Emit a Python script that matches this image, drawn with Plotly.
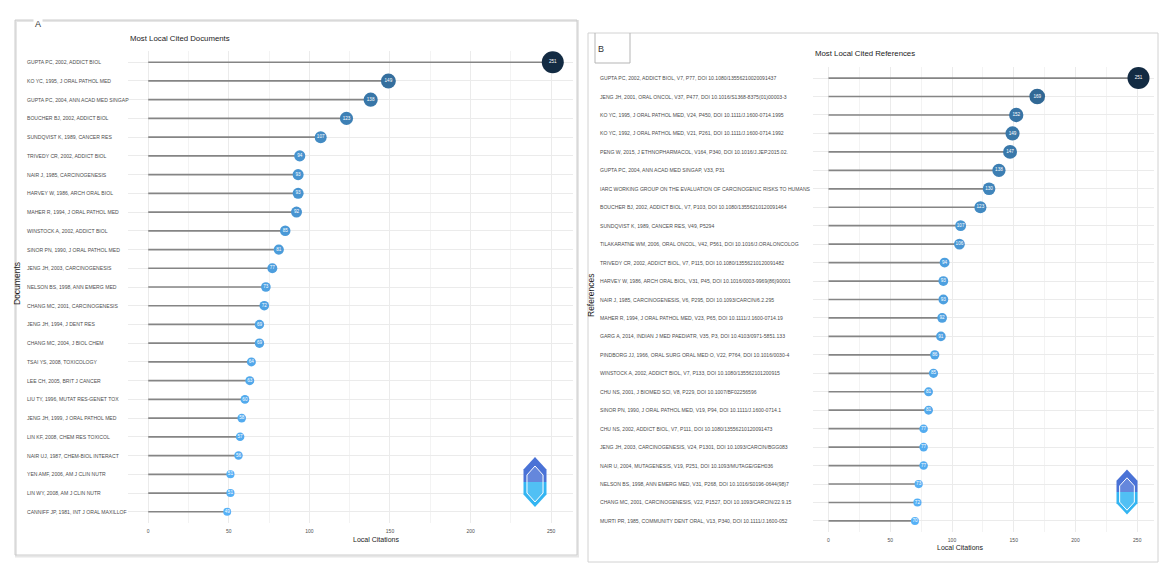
import plotly.graph_objects as go

# ---- Panel A: most local cited documents ----
doc_labels = [
    "GUPTA PC, 2002, ADDICT BIOL",
    "KO YC, 1995, J ORAL PATHOL MED",
    "GUPTA PC, 2004, ANN ACAD MED SINGAP",
    "BOUCHER BJ, 2002, ADDICT BIOL",
    "SUNDQVIST K, 1989, CANCER RES",
    "TRIVEDY CR, 2002, ADDICT BIOL",
    "NAIR J, 1985, CARCINOGENESIS",
    "HARVEY W, 1986, ARCH ORAL BIOL",
    "MAHER R, 1994, J ORAL PATHOL MED",
    "WINSTOCK A, 2002, ADDICT BIOL",
    "SINOR PN, 1990, J ORAL PATHOL MED",
    "JENG JH, 2003, CARCINOGENESIS",
    "NELSON BS, 1998, ANN EMERG MED",
    "CHANG MC, 2001, CARCINOGENESIS",
    "JENG JH, 1994, J DENT RES",
    "CHANG MC, 2004, J BIOL CHEM",
    "TSAI YS, 2008, TOXICOLOGY",
    "LEE CH, 2005, BRIT J CANCER",
    "LIU TY, 1996, MUTAT RES-GENET TOX",
    "JENG JH, 1999, J ORAL PATHOL MED",
    "LIN KF, 2008, CHEM RES TOXICOL",
    "NAIR UJ, 1987, CHEM-BIOL INTERACT",
    "YEN AMF, 2006, AM J CLIN NUTR",
    "LIN WY, 2008, AM J CLIN NUTR",
    "CANNIFF JP, 1981, INT J ORAL MAXILLOF",
]
doc_citations = [251, 149, 138, 123, 107, 94, 93, 93, 92, 85, 81, 77, 73, 72,
                 69, 69, 64, 63, 60, 58, 57, 56, 51, 51, 49]

# ---- Panel B: most local cited references ----
ref_labels = [
    "GUPTA PC, 2002, ADDICT BIOL, V7, P77, DOI 10.1080/13556210020091437",
    "JENG JH, 2001, ORAL ONCOL, V37, P477, DOI 10.1016/S1368-8375(01)00003-3",
    "KO YC, 1995, J ORAL PATHOL MED, V24, P450, DOI 10.1111/J.1600-0714.1995",
    "KO YC, 1992, J ORAL PATHOL MED, V21, P261, DOI 10.1111/J.1600-0714.1992",
    "PENG W, 2015, J ETHNOPHARMACOL, V164, P340, DOI 10.1016/J.JEP.2015.02.",
    "GUPTA PC, 2004, ANN ACAD MED SINGAP, V33, P31",
    "IARC WORKING GROUP ON THE EVALUATION OF CARCINOGENIC RISKS TO HUMANS",
    "BOUCHER BJ, 2002, ADDICT BIOL, V7, P103, DOI 10.1080/13556210120091464",
    "SUNDQVIST K, 1989, CANCER RES, V49, P5294",
    "TILAKARATNE WM, 2006, ORAL ONCOL, V42, P561, DOI 10.1016/J.ORALONCOLOG",
    "TRIVEDY CR, 2002, ADDICT BIOL, V7, P115, DOI 10.1080/13556210120091482",
    "HARVEY W, 1986, ARCH ORAL BIOL, V31, P45, DOI 10.1016/0003-9969(86)90001",
    "NAIR J, 1985, CARCINOGENESIS, V6, P295, DOI 10.1093/CARCIN/6.2.295",
    "MAHER R, 1994, J ORAL PATHOL MED, V23, P65, DOI 10.1111/J.1600-0714.19",
    "GARG A, 2014, INDIAN J MED PAEDIATR, V35, P3, DOI 10.4103/0971-5851.133",
    "PINDBORG JJ, 1966, ORAL SURG ORAL MED O, V22, P764, DOI 10.1016/0030-4",
    "WINSTOCK A, 2002, ADDICT BIOL, V7, P133, DOI 10.1080/135562101200915",
    "CHU NS, 2001, J BIOMED SCI, V8, P229, DOI 10.1007/BF02256596",
    "SINOR PN, 1990, J ORAL PATHOL MED, V19, P94, DOI 10.1111/J.1600-0714.1",
    "CHU NS, 2002, ADDICT BIOL, V7, P111, DOI 10.1080/13556210120091473",
    "JENG JH, 2003, CARCINOGENESIS, V24, P1301, DOI 10.1093/CARCIN/BGG083",
    "NAIR U, 2004, MUTAGENESIS, V19, P251, DOI 10.1093/MUTAGE/GEH036",
    "NELSON BS, 1998, ANN EMERG MED, V31, P268, DOI 10.1016/S0196-0644(98)7",
    "CHANG MC, 2001, CARCINOGENESIS, V22, P1527, DOI 10.1093/CARCIN/22.9.15",
    "MURTI PR, 1985, COMMUNITY DENT ORAL, V13, P340, DOI 10.1111/J.1600-052",
]
ref_citations = [251, 169, 152, 149, 147, 138, 130, 123, 107, 106, 94, 93, 93,
                 92, 91, 86, 85, 81, 81, 77, 77, 77, 73, 72, 70]

axis_ticks = [0, 50, 100, 150, 200, 250]

W, H = 1160, 563
FONT = "Liberation Sans, Arial, sans-serif"
LOW_COL, HIGH_COL = "#56B1F7", "#132B43"


def px_x(x):
    return x / W


def px_y(y):
    return 1 - y / H


fig = go.Figure()


def add_panel(labels, values, xa, ya, label_left_px, label_size):
    n = len(labels)
    idx = list(range(n))
    # stems from zero to each value
    sx, sy = [], []
    for i, v in zip(idx, values):
        sx += [0, v, None]
        sy += [i, i, None]
    fig.add_trace(go.Scatter(
        x=sx, y=sy, mode="lines", xaxis=xa, yaxis=ya,
        line=dict(color="#858585", width=1.7), hoverinfo="skip",
        showlegend=False))
    vmin, vmax = min(values), max(values)
    sizes = [8 + (v - vmin) / (vmax - vmin) * 14 for v in values]
    fig.add_trace(go.Scatter(
        x=values, y=idx, mode="markers+text", xaxis=xa, yaxis=ya,
        text=[str(v) for v in values], textposition="middle center",
        textfont=dict(family=FONT, size=4.6, color="white"),
        marker=dict(size=sizes, color=values, opacity=1,
                    colorscale=[[0, LOW_COL], [1, HIGH_COL]],
                    cmin=vmin, cmax=vmax, line=dict(width=0)),
        opacity=1, showlegend=False, hoverinfo="x+y"))
    # left-aligned category labels
    for i, lab in zip(idx, labels):
        fig.add_annotation(
            text=lab, xref="paper", x=px_x(label_left_px), xanchor="left",
            yref=ya, y=i, yanchor="middle", showarrow=False,
            font=dict(family=FONT, size=label_size, color="#4d4d4d"))
    return n


nA = add_panel(doc_labels, doc_citations, "x", "y", 25, 5.1)
nB = add_panel(ref_labels, ref_citations, "x2", "y2", 598, 5.1)

maxA, maxB = max(doc_citations), max(ref_citations)
common_x = dict(
    tickvals=axis_ticks, ticktext=[str(t) for t in axis_ticks],
    showgrid=True, gridcolor="#ebebeb", gridwidth=1, zeroline=False,
    showline=False, ticks="", ticklen=0, ticklabelstandoff=4,
    tickfont=dict(family=FONT, size=5, color="#4d4d4d"),
    minor=dict(dtick=25, tick0=0, showgrid=True, gridcolor="#f3f3f3",
               gridwidth=1),
)
common_y = dict(
    showgrid=True, gridcolor="#ebebeb", gridwidth=1.2, zeroline=False,
    showline=False, showticklabels=False, ticks="", tick0=0, dtick=1,
)

fig.update_layout(
    width=W, height=H, margin=dict(l=0, r=0, t=0, b=0),
    paper_bgcolor="white", plot_bgcolor="white",
    xaxis=dict(domain=[px_x(128), px_x(573)],
               range=[-0.05 * maxA, 1.05 * maxA], anchor="y", **common_x),
    yaxis=dict(domain=[px_y(523), px_y(51)], range=[nA - 0.4, -0.6],
               anchor="x", **common_y),
    xaxis2=dict(domain=[px_x(813), px_x(1154)],
                range=[-0.05 * maxB, 1.05 * maxB], anchor="y2", **common_x),
    yaxis2=dict(domain=[px_y(532), px_y(67)], range=[nB - 0.4, -0.6],
                anchor="x2", **common_y),
)

# panel frames
fig.add_shape(type="rect", xref="paper", yref="paper",
              x0=px_x(16), x1=px_x(578), y0=px_y(556.5), y1=px_y(21),
              line=dict(color="#e6e6e6", width=2), fillcolor="rgba(0,0,0,0)",
              layer="below")
fig.add_shape(type="rect", xref="paper", yref="paper",
              x0=px_x(15), x1=px_x(577), y0=px_y(555), y1=px_y(20),
              line=dict(color="#cccccc", width=1), fillcolor="rgba(0,0,0,0)",
              layer="below")
fig.add_shape(type="rect", xref="paper", yref="paper",
              x0=px_x(588), x1=px_x(1158), y0=px_y(562), y1=px_y(33),
              line=dict(color="#d2d2d2", width=1), fillcolor="rgba(0,0,0,0)",
              layer="below")
# tab around panel letter B
fig.add_shape(type="path", xref="paper", yref="paper",
              path="M {} {} L {} {} L {} {} L {} {}".format(
                  px_x(595), px_y(33), px_x(595), px_y(63),
                  px_x(630), px_y(63), px_x(630), px_y(33)),
              line=dict(color="#b5b5b5", width=1))

fig.add_annotation(text="A", xref="paper", yref="paper", x=px_x(33),
                   y=px_y(17), showarrow=False,
                   font=dict(family=FONT, size=9, color="#333333"),
                   bgcolor="white")
fig.add_annotation(text="B", xref="paper", yref="paper", x=px_x(601),
                   y=px_y(42), showarrow=False,
                   font=dict(family=FONT, size=9, color="#333333"))

# plot titles and axis titles
fig.add_annotation(text="Most Local Cited Documents", xref="paper",
                   yref="paper", x=px_x(128), y=px_y(32), xanchor="left",
                   showarrow=False,
                   font=dict(family=FONT, size=7.8, color="#1a1a1a"))
fig.add_annotation(text="Most Local Cited References", xref="paper",
                   yref="paper", x=px_x(813), y=px_y(47), xanchor="left",
                   showarrow=False,
                   font=dict(family=FONT, size=7.8, color="#1a1a1a"))
for xc, yc in [(351, 545), (985, 553)]:
    fig.add_annotation(text="Local Citations", xref="paper", yref="paper",
                       x=px_x(xc), y=px_y(yc), showarrow=False,
                       font=dict(family=FONT, size=7, color="#1a1a1a"))
fig.add_annotation(text="Documents", xref="paper", yref="paper",
                   x=px_x(23), xanchor="right", y=px_y(284), textangle=-90,
                   showarrow=False, borderpad=0,
                   font=dict(family=FONT, size=8.5, color="#1a1a1a"))
fig.add_annotation(text="References", xref="paper", yref="paper",
                   x=px_x(597), xanchor="right", y=px_y(296), textangle=-90,
                   showarrow=False, borderpad=0,
                   font=dict(family=FONT, size=8.5, color="#1a1a1a"))


# hexagonal badge in the lower-right corner of each panel
def poly(pts):
    return "M " + " L ".join("{:.5f} {:.5f}".format(px_x(a), px_y(b))
                             for a, b in pts) + " Z"


def hexagon(cx, cy, w, h):
    return poly([(cx, cy - h / 2), (cx + w / 2, cy - h / 4),
                 (cx + w / 2, cy + h / 4), (cx, cy + h / 2),
                 (cx - w / 2, cy + h / 4), (cx - w / 2, cy - h / 4)])


def half_hex(cx, cy, w, h, top):
    if top:
        pts = [(cx, cy - h / 2), (cx + w / 2, cy - h / 4), (cx + w / 2, cy),
               (cx - w / 2, cy), (cx - w / 2, cy - h / 4)]
    else:
        pts = [(cx - w / 2, cy), (cx + w / 2, cy), (cx + w / 2, cy + h / 4),
               (cx, cy + h / 2), (cx - w / 2, cy + h / 4)]
    return poly(pts)


for cx, cy, w, h in [(535, 482, 23, 50), (1127, 492, 21, 45)]:
    fig.add_shape(type="path", xref="paper", yref="paper",
                  path=half_hex(cx, cy, w, h, True), fillcolor="#4a72d6",
                  line=dict(width=0))
    fig.add_shape(type="path", xref="paper", yref="paper",
                  path=half_hex(cx, cy, w, h, False), fillcolor="#33b5f2",
                  line=dict(width=0))
    fig.add_shape(type="path", xref="paper", yref="paper",
                  path=hexagon(cx, cy + 2, w * 0.7, h * 0.72),
                  fillcolor="rgba(255,255,255,0.15)",
                  line=dict(color="white", width=1))

fig.write_html("out.html")
